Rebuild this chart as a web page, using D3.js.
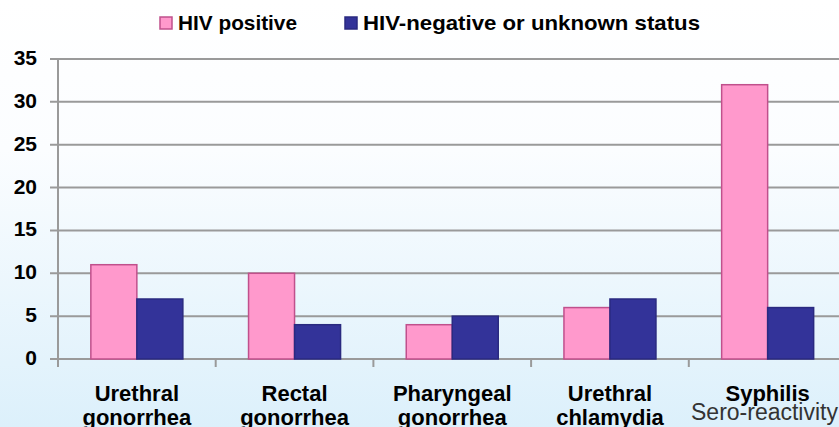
<!DOCTYPE html>
<html><head><meta charset="utf-8">
<script src="https://cdn.jsdelivr.net/npm/d3@7"></script>
<style>body{margin:0;overflow:hidden}svg{display:block}</style>
</head><body>
<script>
const categories = [["Urethral","gonorrhea"],["Rectal","gonorrhea"],["Pharyngeal","gonorrhea"],["Urethral","chlamydia"],["Syphilis",""]];
const seriesNames = ["HIV positive","HIV-negative or unknown status"];
const hivPositive = [11,10,4,6,32];
const hivNegative = [7,4,5,7,6];
const yTicks = [0,5,10,15,20,25,30,35];
const colors = ["#ff99cc","#333399"];
const strokes = ["#c0508c","#2a2a80"];

const W=839,H=427;
const FONT="Liberation Sans, Arial, sans-serif";
const svg=d3.select("body").append("svg").attr("width",W).attr("height",H);
const defs=svg.append("defs");
const g0=defs.append("linearGradient").attr("id","bg").attr("x1",0).attr("y1",0).attr("x2",0).attr("y2",1);
g0.append("stop").attr("offset","0%").attr("stop-color","#ffffff");
g0.append("stop").attr("offset","35%").attr("stop-color","#fbfdff");
g0.append("stop").attr("offset","100%").attr("stop-color","#dcf0fb");
svg.append("rect").attr("width",W).attr("height",H).attr("fill","url(#bg)");

const x0=58, x1=58+5*157.7, yTop=59, yBot=359;
const x=d3.scaleBand().domain(d3.range(categories.length)).range([x0,x1]).paddingInner(0).paddingOuter(0);
const y=d3.scaleLinear().domain([0,35]).range([yBot,yTop]);
const bw=x.bandwidth()*0.2917;

svg.append("g").selectAll("line").data(yTicks).join("line")
 .attr("x1",50).attr("x2",W).attr("y1",d=>y(d)).attr("y2",d=>y(d))
 .attr("stroke","#9a9a9a").attr("stroke-width",2);
svg.append("line").attr("x1",x0).attr("x2",x0).attr("y1",yTop).attr("y2",yBot+8).attr("stroke","#9a9a9a").attr("stroke-width",2);
svg.append("g").selectAll("line").data(d3.range(1,categories.length)).join("line")
 .attr("x1",d=>x(d)).attr("x2",d=>x(d)).attr("y1",yBot).attr("y2",yBot+8).attr("stroke","#9a9a9a").attr("stroke-width",2);

svg.append("g").selectAll("text").data(yTicks).join("text")
 .attr("x",37).attr("y",d=>y(d)+6).attr("text-anchor","end")
 .attr("font-family",FONT).attr("font-weight","bold").attr("font-size",21)
 .attr("fill","#000").text(d=>d);

const data=[hivPositive,hivNegative];
data.forEach((vals,si)=>{
 svg.append("g").selectAll("rect").data(vals).join("rect")
  .attr("x",(d,i)=>x(i)+x.bandwidth()/2-bw+si*bw)
  .attr("y",d=>y(d)).attr("width",bw).attr("height",d=>yBot-y(d))
  .attr("fill",colors[si]).attr("stroke",strokes[si]).attr("stroke-width",1.5);
});

const cl=svg.append("g").attr("font-family",FONT).attr("font-weight","bold").attr("font-size",22).attr("text-anchor","middle");
categories.forEach((c,i)=>{
 cl.append("text").attr("x",x(i)+x.bandwidth()/2).attr("y",401).text(c[0]);
 if(c[1]) cl.append("text").attr("x",x(i)+x.bandwidth()/2).attr("y",425).text(c[1]);
});
svg.append("text").attr("x",691).attr("y",420).attr("font-family",FONT)
 .attr("font-size",23).attr("fill","#333").text("Sero-reactivity");

const lg=svg.append("g").attr("font-family",FONT).attr("font-weight","bold").attr("font-size",21);
const lx=[160,345];
const lw=[119,337];
seriesNames.forEach((s,i)=>{
 lg.append("rect").attr("x",lx[i]).attr("y",17).attr("width",12).attr("height",12).attr("fill",colors[i]).attr("stroke",strokes[i]).attr("stroke-width",1.5);
 lg.append("text").attr("x",lx[i]+18).attr("y",30).attr("textLength",lw[i]).attr("lengthAdjust","spacingAndGlyphs").text(s);
});
</script>
</body></html>
